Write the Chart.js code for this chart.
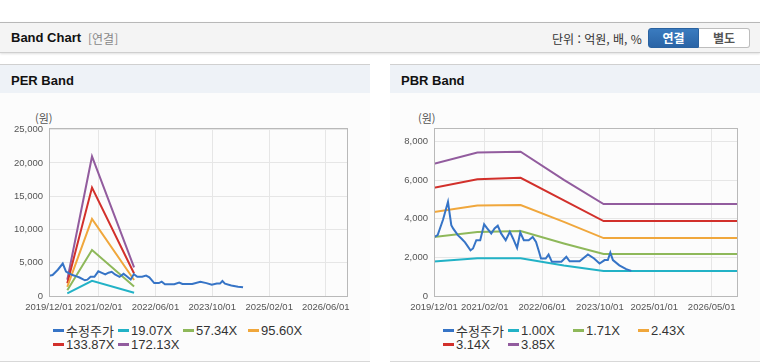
<!DOCTYPE html>
<html lang="ko">
<head>
<meta charset="utf-8">
<title>Band Chart</title>
<script src="https://cdn.jsdelivr.net/npm/chart.js@4.4.1/dist/chart.umd.min.js"></script>
<style>
    * { box-sizing: border-box; }
    html, body { margin: 0; padding: 0; background: #fff; }
    body {
        width: 760px; height: 364px; position: relative; overflow: hidden;
        font-family: "Liberation Sans", "Noto Sans CJK KR", sans-serif; color: #222;
    }
    .top-bar {
        position: absolute; left: 0; top: 22px; width: 760px; height: 31px;
        background: #f4f4f4; border-top: 1px solid #b8b8b8; border-bottom: 1px solid #cfcfcf;
        box-shadow: 0 1px 2px rgba(0,0,0,0.12);
    }
    .top-bar .title { position: absolute; left: 11px; top: 7px; font-size: 13px; font-weight: bold; color: #111; }
    .top-bar .sub { position: absolute; left: 88px; top: 7px; font-size: 12px; color: #888; font-family: "Noto Sans CJK KR", sans-serif; }
    .top-bar .unit { position: absolute; left: 552px; top: 7px; font-size: 12px; color: #333; font-family: "Noto Sans CJK KR", sans-serif; }
    .btn {
        position: absolute; top: 5px; height: 20px; width: 51px; font-size: 12px; font-weight: bold;
        text-align: center; line-height: 18px; font-family: "Noto Sans CJK KR", sans-serif;
    }
    .btn.on { left: 648px; background: linear-gradient(#3a7bbf, #2a64a6); color: #fff; border: 1px solid #2a62a0; border-radius: 3px 0 0 3px; }
    .btn.off { left: 699px; background: #fff; color: #555; border: 1px solid #bdbdbd; border-left: none; border-radius: 0 3px 3px 0; }
    .panel { position: absolute; top: 64px; width: 370px; height: 298px; background: #fcfcfc; border-bottom: 1px solid #d8d8d8; }
    .panel .head {
        height: 29px; background: #eef2f7; border-top: 1px solid #d0d0d0;
        font-size: 13px; font-weight: bold; color: #111; padding: 8px 0 0 11px;
    }
    .panel canvas { position: absolute; left: 0; top: 29px; }
    .unit-label { position: absolute; top: 46px; font-size: 11px; color: #555; font-family: "Noto Sans CJK KR", sans-serif; }
    .legend { position: absolute; top: 259px; display: grid; grid-template-columns: repeat(4, 65px); grid-auto-rows: 14px; font-size: 13px; color: #333; }
    .legend span { display: flex; align-items: center; white-space: nowrap; }
    .legend i { display: inline-block; width: 11px; height: 3px; margin-right: 2px; }
</style>
</head>
<body>
<div class="top-bar">
    <span class="title">Band Chart</span><span class="sub">[연결]</span>
    <span class="unit">단위 : 억원, 배, %</span>
    <span class="btn on">연결</span><span class="btn off">별도</span>
</div>
<div class="panel" style="left:0">
    <div class="head">PER Band</div>
    <span class="unit-label" style="left:35px">(원)</span>
    <canvas id="perChart" width="370" height="228"></canvas>
    <div class="legend" id="perLegend" style="left:53px"></div>
</div>
<div class="panel" style="left:390px">
    <div class="head">PBR Band</div>
    <span class="unit-label" style="left:28px">(원)</span>
    <canvas id="pbrChart" width="370" height="228"></canvas>
    <div class="legend" id="pbrLegend" style="left:53px"></div>
</div>
<script>
// 수정주가 (both charts)
const priceDates = ['2019/12/01', '2020/01/01', '2020/02/15', '2020/03/28', '2020/04/25', '2020/05/10', '2020/06/19',
    '2020/07/19', '2020/08/19', '2020/10/04', '2020/10/25', '2020/11/22', '2020/12/25', '2021/01/27', '2021/02/22',
    '2021/03/28', '2021/04/25', '2021/05/22', '2021/06/19', '2021/07/28', '2021/09/01', '2021/09/28', '2021/11/01',
    '2021/11/28', '2021/12/28', '2022/02/07', '2022/03/13', '2022/04/10', '2022/05/04', '2022/05/22', '2022/07/01',
    '2022/07/25', '2022/08/22', '2022/11/10', '2022/12/22', '2023/01/19', '2023/04/13', '2023/06/22', '2023/08/13',
    '2023/09/28', '2023/11/10', '2023/12/07', '2023/12/28', '2024/01/19', '2024/03/13', '2024/05/10', '2024/06/22'];
const priceValues = [3050, 3150, 3950, 4880, 3670, 3500, 3150,
    2980, 2780, 2360, 2460, 2890, 2890, 3710, 3500,
    3240, 3500, 3640, 3240, 2890, 3330, 2980, 2490,
    3290, 2890, 2890, 3060, 2800, 2320, 1940, 1940,
    2150, 1770, 1770, 2030, 1800, 1800, 2150, 1940,
    1680, 1860, 1860, 2250, 1860, 1590, 1390, 1300];

// PER 밴드
const perBandDates = ['2020/05/06', '2020/12/04', '2021/11/30'];
const per1907 = [400, 2270, 500];
const per5734 = [850, 6900, 1440];
const per9560 = [1380, 11570, 2400];
const per13387 = [1900, 16300, 3380];
const per17213 = [2450, 20970, 4300];
const perTicksX = ['2019/12/01', '2021/02/01', '2022/06/01', '2023/10/01', '2025/02/01', '2026/06/01'];
const perTicksY = [0, 5000, 10000, 15000, 20000, 25000];

// PBR 밴드
const pbrBandDates = ['2019/12/01', '2020/12/01', '2021/12/01', '2022/12/01', '2023/11/01', '2026/12/01'];
const pbr100 = [1790, 1950, 1950, 1580, 1290, 1290];
const pbr171 = [3060, 3320, 3360, 2720, 2180, 2180];
const pbr243 = [4350, 4690, 4710, 3840, 3000, 3000];
const pbr314 = [5600, 6050, 6120, 4950, 3880, 3880];
const pbr385 = [6850, 7430, 7470, 6010, 4760, 4760];
const pbrTicksX = ['2019/12/01', '2021/02/01', '2022/06/01', '2023/10/01', '2025/01/01', '2026/05/01'];
const pbrTicksY = [0, 2000, 4000, 6000, 8000];

const seriesColors = ['#3674c6', '#22b2c6', '#8eb85a', '#f0a73c', '#d2302b', '#925c9e'];
const xStart = '2019/12/01';
const xEnd = '2026/12/01';

// 'YYYY/MM/DD' -> timestamp
function toTime(s) {
    const p = s.split('/').map(Number);
    return Date.UTC(p[0], p[1] - 1, p[2]);
}
function fmtDate(v) {
    const d = new Date(v);
    return d.getUTCFullYear() + '/' + String(d.getUTCMonth() + 1).padStart(2, '0') + '/' + String(d.getUTCDate()).padStart(2, '0');
}
function points(dates, values) {
    return dates.map((d, i) => ({ x: toTime(d), y: values[i] }));
}

// 플롯 영역 테두리
const frameBorder = {
    id: 'frameBorder',
    afterDraw(chart) {
        const a = chart.chartArea, ctx = chart.ctx;
        ctx.save();
        ctx.strokeStyle = '#b9b9b9';
        ctx.lineWidth = 1;
        ctx.strokeRect(Math.round(a.left) + 0.5, Math.round(a.top) + 0.5, Math.round(a.width), Math.round(a.height));
        ctx.restore();
    }
};

function buildChart(canvasId, legendId, bandDates, bands, bandLabels, ticksX, ticksY, yMax, yAxisWidth) {
    const datasets = [{
        label: '수정주가', data: points(priceDates, priceValues), borderColor: seriesColors[0], order: 0
    }];
    bands.forEach((vals, i) => {
        datasets.push({ label: bandLabels[i], data: points(bandDates, vals), borderColor: seriesColors[i + 1], order: i + 1 });
    });
    datasets.forEach(ds => { ds.borderWidth = 2; ds.pointRadius = 0; ds.tension = 0; ds.fill = false; });

    const tickFont = { family: '"Liberation Sans", sans-serif', size: 9.5 };
    new Chart(document.getElementById(canvasId), {
        type: 'line',
        data: { datasets: datasets },
        options: {
            responsive: false,
            animation: false,
            layout: { padding: { top: 35, right: 23, left: 0, bottom: 0 } },
            plugins: { legend: { display: false }, tooltip: { enabled: false } },
            scales: {
                x: {
                    type: 'linear', min: toTime(xStart), max: toTime(xEnd),
                    afterBuildTicks: axis => { axis.ticks = ticksX.map(t => ({ value: toTime(t) })); },
                    afterFit: axis => { axis.height = 25; },
                    grid: { color: '#e6e6e6', drawTicks: false },
                    border: { display: false },
                    ticks: { autoSkip: false, maxRotation: 0, padding: 6, color: '#555', font: tickFont, callback: v => fmtDate(v) }
                },
                y: {
                    min: 0, max: yMax,
                    afterBuildTicks: axis => { axis.ticks = ticksY.map(v => ({ value: v })); },
                    afterFit: axis => { axis.width = yAxisWidth; },
                    grid: { color: '#e6e6e6', drawTicks: false },
                    border: { display: false },
                    ticks: { padding: 6, color: '#555', font: tickFont, callback: v => v.toLocaleString('en-US') }
                }
            }
        },
        plugins: [frameBorder]
    });

    // 범례
    const legend = document.getElementById(legendId);
    datasets.forEach((ds, i) => {
        const item = document.createElement('span');
        item.innerHTML = '<i style="background:' + seriesColors[i] + '"></i>' + ds.label;
        legend.appendChild(item);
    });
}

document.addEventListener('DOMContentLoaded', function() {
    buildChart('perChart', 'perLegend', perBandDates, [per1907, per5734, per9560, per13387, per17213],
        ['19.07X', '57.34X', '95.60X', '133.87X', '172.13X'], perTicksX, perTicksY, 25250, 49);
    buildChart('pbrChart', 'pbrLegend', pbrBandDates, [pbr100, pbr171, pbr243, pbr314, pbr385],
        ['1.00X', '1.71X', '2.43X', '3.14X', '3.85X'], pbrTicksX, pbrTicksY, 8700, 44);
});
</script>
</body>
</html>
